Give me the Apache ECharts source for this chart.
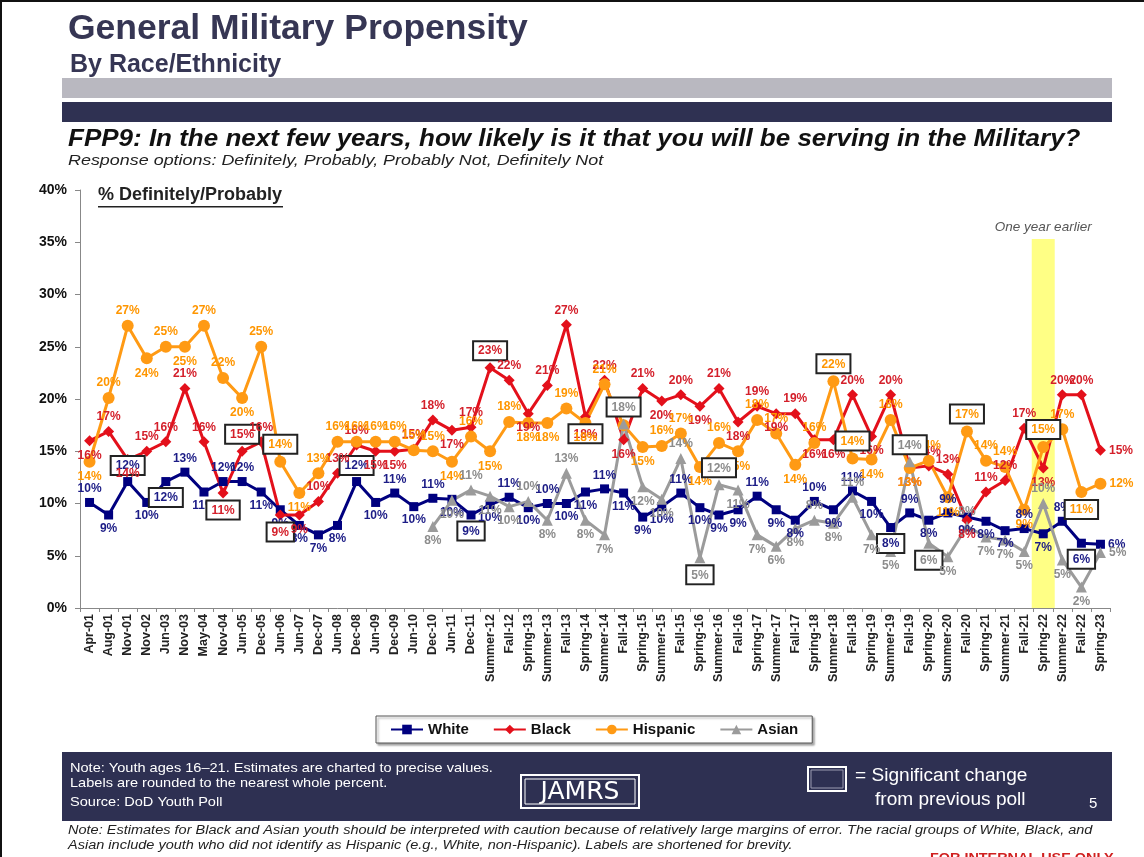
<!DOCTYPE html>
<html>
<head>
<meta charset="utf-8">
<script src="https://cdn.jsdelivr.net/npm/echarts@6/dist/echarts.min.js"></script>
<style>
html,body{margin:0;padding:0;background:#fff;}
#chart{width:1144px;height:857px;}
</style>
</head>
<body>
<div id="chart"></div>
<script>
const categories = ['Apr-01','Aug-01','Nov-01','Nov-02','Jun-03','Nov-03','May-04','Nov-04','Jun-05','Dec-05','Jun-06','Jun-07','Dec-07','Jun-08','Dec-08','Jun-09','Dec-09','Jun-10','Dec-10','Jun-11','Dec-11','Summer-12','Fall-12','Spring-13','Summer-13','Fall-13','Spring-14','Summer-14','Fall-14','Spring-15','Summer-15','Fall-15','Spring-16','Summer-16','Fall-16','Spring-17','Summer-17','Fall-17','Spring-18','Summer-18','Fall-18','Spring-19','Summer-19','Fall-19','Spring-20','Summer-20','Fall-20','Spring-21','Summer-21','Fall-21','Spring-22','Summer-22','Fall-22','Spring-23'];

const white = [10.1,8.9,12.1,10.1,12.1,13.0,11.1,12.1,12.1,11.1,9.4,7.9,7.0,7.9,12.1,10.1,11.0,9.7,10.5,10.4,8.9,9.9,10.6,9.6,10.0,10.0,11.1,11.4,11.0,8.7,9.7,11.0,9.6,8.9,9.4,10.7,9.4,8.4,10.2,9.4,11.2,10.2,7.7,9.1,8.4,9.1,8.7,8.3,7.4,7.6,7.1,8.3,6.2,6.1];
const black = [16.0,16.9,14.2,15.0,15.9,21.0,15.9,11.0,15.0,15.9,8.9,8.9,10.2,12.9,15.6,15.0,15.0,15.2,18.0,17.0,17.3,23.0,21.8,18.6,21.3,27.1,18.3,21.8,16.1,21.0,19.8,20.4,19.3,21.0,17.8,19.3,18.6,18.6,16.1,16.1,20.4,16.4,20.4,13.4,13.6,12.8,8.4,11.1,12.2,17.2,13.4,20.4,20.4,15.1];
const hispanic = [14.0,20.1,27.0,23.9,25.0,25.0,27.0,22.0,20.1,25.0,14.0,11.0,12.9,15.9,15.9,15.9,15.9,15.1,15.0,14.0,16.4,15.0,17.8,17.7,17.7,19.1,17.7,21.4,17.5,15.4,15.5,16.7,13.5,15.8,15.0,18.0,16.7,13.7,15.8,21.7,14.3,14.2,18.0,13.4,14.1,10.6,16.9,14.1,13.5,9.4,15.4,17.1,11.1,11.9];
const asian = [null,null,null,null,null,null,null,null,null,null,null,null,null,null,null,null,null,null,7.8,10.3,11.3,10.7,9.7,10.2,8.4,12.9,8.4,7.0,17.6,11.6,10.4,14.3,4.8,11.8,11.3,7.0,5.9,7.6,8.4,8.1,10.6,7.0,5.4,14.0,6.2,4.9,7.8,6.8,6.5,5.4,10.0,4.6,2.0,5.3];

// indices of labels boxed as "significant change from previous poll"
const whiteBoxed = [2,4,14,20,42,52];
const blackBoxed = [7,8,10,21,26];
const hispanicBoxed = [10,39,40,46,50,52];
const asianBoxed = [28,32,33,43,44];

const highlightCategory = 'Spring-22';
const highlightTop = 35.3;
const highlightText = 'One year earlier';

const FONT = '"Liberation Sans", Arial, sans-serif';

function labelPos(vals, i, def) {
  const v = vals[i];
  const p = vals[i-1], n = vals[i+1];
  if (n == null && i === vals.length - 1) return 'right';
  if (p != null && n != null) {
    if (v >= p && v >= n) return 'top';
    if (v <= p && v <= n) return 'bottom';
  } else if (p == null && n != null) {
    return v >= n ? 'top' : 'bottom';
  }
  return def;
}

function buildData(vals, boxed, def) {
  return vals.map((v, i) => {
    if (v == null) return '-';
    const lbl = { position: labelPos(vals, i, def) };
    if (boxed.indexOf(i) >= 0) {
      lbl.borderColor = '#222';
      lbl.borderWidth = 2;
      lbl.padding = [3, 4, 2, 4];
      lbl.backgroundColor = '#fff';
    }
    return { value: v, label: lbl };
  });
}

function lineSeries(name, vals, boxed, def, color, lblColor, symbol, size) {
  return {
    name: name,
    type: 'line',
    data: buildData(vals, boxed, def),
    symbol: symbol,
    symbolSize: size,
    showAllSymbol: true,
    connectNulls: false,
    lineStyle: { color: color, width: 3 },
    itemStyle: { color: color },
    z: 3,
    label: {
      show: true,
      color: lblColor,
      fontFamily: FONT,
      fontWeight: 'bold',
      fontSize: 12,
      distance: 3,
      formatter: p => Math.round(p.value) + '%'
    },
    emphasis: { disabled: true }
  };
}

function txt(x, y, text, font, fill, sx) {
  return { type: 'text', x: x, y: y, scaleX: sx || 1, scaleY: 1, silent: true,
    style: { text: text, font: font, fill: fill, align: 'left', verticalAlign: 'top' } };
}

const chart = echarts.init(document.getElementById('chart'), null, { renderer: 'canvas' });

const highlightData = categories.map(c => c === highlightCategory ? highlightTop : '-');

const option = {
  animation: false,
  backgroundColor: '#fff',
  grid: { left: 80, right: 34, top: 190, bottom: 249 },
  legend: {
    data: ['White', 'Black', 'Hispanic', 'Asian'],
    left: 376,
    top: 716,
    padding: [6, 14, 6, 14],
    itemGap: 24,
    itemWidth: 32,
    itemHeight: 12,
    borderColor: '#555',
    borderWidth: 1,
    backgroundColor: '#fff',
    shadowColor: 'rgba(0,0,0,0.35)',
    shadowBlur: 2,
    shadowOffsetX: 2,
    shadowOffsetY: 2,
    textStyle: { fontFamily: FONT, fontWeight: 'bold', fontSize: 15, color: '#111' }
  },
  xAxis: {
    type: 'category',
    data: categories,
    boundaryGap: true,
    axisLine: { lineStyle: { color: '#888', width: 1 } },
    axisTick: { show: true, interval: 0, length: 4, lineStyle: { color: '#888' } },
    axisLabel: {
      interval: 0,
      rotate: 90,
      fontFamily: FONT,
      fontWeight: 'bold',
      fontSize: 12.5,
      color: '#222',
      margin: 6
    },
    splitLine: { show: false }
  },
  yAxis: {
    type: 'value',
    min: 0,
    max: 40,
    interval: 5,
    axisLine: { show: true, lineStyle: { color: '#888', width: 1 } },
    axisTick: { show: true, length: 5, lineStyle: { color: '#888' } },
    axisLabel: {
      formatter: '{value}%',
      fontFamily: FONT,
      fontWeight: 'bold',
      fontSize: 14,
      color: '#111',
      margin: 13
    },
    splitLine: { show: false }
  },
  series: [
    {
      name: 'highlight',
      type: 'bar',
      data: highlightData,
      barWidth: 23,
      silent: true,
      z: 1,
      itemStyle: { color: '#ffff85' },
      label: {
        show: true,
        position: 'top',
        distance: 5,
        formatter: highlightText,
        fontFamily: FONT,
        fontStyle: 'italic',
        fontSize: 13.5,
        color: '#555'
      }
    },
    lineSeries('White', white, whiteBoxed, 'bottom', '#00007f', '#1c1c86', 'rect', 9),
    lineSeries('Black', black, blackBoxed, 'top', '#e3101b', '#d41f2a', 'diamond', 11),
    lineSeries('Hispanic', hispanic, hispanicBoxed, 'top', '#ff9a14', '#ff9600', 'circle', 12),
    lineSeries('Asian', asian, asianBoxed, 'bottom', '#9b9b9b', '#8c8c8c', 'triangle', 11)
  ],
  graphic: [
    { type: 'rect', shape: { x: 0, y: 0, width: 1144, height: 2 }, style: { fill: '#111' }, silent: true },
    { type: 'rect', shape: { x: 0, y: 0, width: 2, height: 857 }, style: { fill: '#111' }, silent: true },
    txt(68, 11, 'General Military Propensity', 'bold 35.5px ' + FONT, '#363654'),
    txt(70, 53, 'By Race/Ethnicity', 'bold 25px ' + FONT, '#363654'),
    { type: 'rect', shape: { x: 62, y: 78, width: 1050, height: 20 }, style: { fill: '#b9b8c0' }, silent: true },
    { type: 'rect', shape: { x: 62, y: 102, width: 1050, height: 20 }, style: { fill: '#2f3152' }, silent: true },
    txt(68, 127, 'FPP9: In the next few years, how likely is it that you will be serving in the Military?', 'italic bold 24px ' + FONT, '#111', 1.083),
    txt(68, 154, 'Response options: Definitely, Probably, Probably Not, Definitely Not', 'italic 14px ' + FONT, '#222', 1.28),
    txt(98, 186, '% Definitely/Probably', 'bold 18px ' + FONT, '#222'),
    { type: 'rect', shape: { x: 98, y: 206, width: 185, height: 1.5 }, style: { fill: '#222' }, silent: true },
    // footer
    { type: 'rect', shape: { x: 62, y: 752, width: 1050, height: 69 }, style: { fill: '#2e3052' }, silent: true },
    txt(70, 762, 'Note: Youth ages 16\u201321. Estimates are charted to precise values.', '13px ' + FONT, '#fff', 1.12),
    txt(70, 777, 'Labels are rounded to the nearest whole percent.', '13px ' + FONT, '#fff', 1.12),
    txt(70, 796, 'Source: DoD Youth Poll', '13px ' + FONT, '#fff', 1.12),
    { type: 'rect', shape: { x: 521, y: 775, width: 118, height: 33 }, style: { fill: 'none', stroke: '#fff', lineWidth: 2 }, silent: true },
    { type: 'rect', shape: { x: 525, y: 779, width: 110, height: 25 }, style: { fill: 'none', stroke: '#fff', lineWidth: 1 }, silent: true },
    { type: 'text', x: 580, y: 792, silent: true, style: { text: 'JAMRS', font: '25px "DejaVu Sans", sans-serif', fill: '#fff', align: 'center', verticalAlign: 'middle' } },
    { type: 'rect', shape: { x: 808, y: 767, width: 38, height: 24 }, style: { fill: 'none', stroke: '#fff', lineWidth: 2 }, silent: true },
    { type: 'rect', shape: { x: 811, y: 770, width: 32, height: 18 }, style: { fill: '#2e3052', stroke: '#9a9ab0', lineWidth: 1 }, silent: true },
    txt(855, 767, '= Significant change', '18px ' + FONT, '#fff', 1.06),
    txt(875, 791, 'from previous poll', '18px ' + FONT, '#fff', 1.06),
    txt(1089, 796, '5', '15px ' + FONT, '#fff'),
    // bottom notes
    txt(68, 825, 'Note: Estimates for Black and Asian youth should be interpreted with caution because of relatively large margins of error. The racial groups of White, Black, and', 'italic 12px ' + FONT, '#222', 1.21),
    txt(68, 840, 'Asian include youth who did not identify as Hispanic (e.g., White, non-Hispanic). Labels are shortened for brevity.', 'italic 12px ' + FONT, '#222', 1.21),
    txt(930, 853, 'FOR INTERNAL USE ONLY', 'bold 12px ' + FONT, '#d02020', 1.2)
  ]
};

chart.setOption(option);
</script>
</body>
</html>
